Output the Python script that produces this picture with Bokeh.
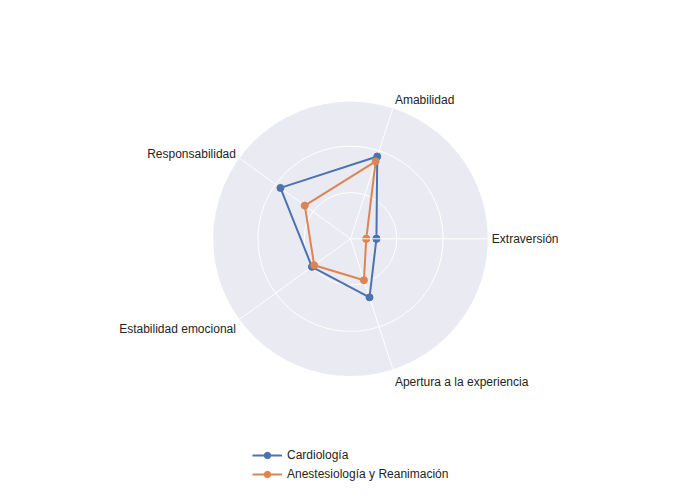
import numpy as np
from bokeh.plotting import figure
from bokeh.models import Legend, LegendItem, ColumnDataSource
from bokeh.core.properties import value
from bokeh.embed import file_html
from bokeh.resources import INLINE

categories = ["Extraversión", "Amabilidad", "Responsabilidad", "Estabilidad emocional", "Apertura a la experiencia"]
cardiologia = [0.56, 1.87, 1.87, 1.03, 1.33]
anestesiologia = [0.34, 1.76, 1.22, 0.97, 0.94]
series_names = ["Cardiología", "Anestesiología y Reanimación"]
series_colors = ["#4C72B0", "#DD8452"]
rings = [1, 2]
r_max = 2.966

W, H = 684, 484
scale = 46.3
cx, cy = 350, 238.3
p = figure(width=W, height=H, output_backend="svg", toolbar_location=None,
           x_range=(-cx / scale, (W - cx) / scale), y_range=(-(H - cy) / scale, cy / scale),
           min_border=0, match_aspect=False)
p.axis.visible = False
p.grid.visible = False
p.outline_line_color = None
p.background_fill_color = "white"
p.border_fill_color = "white"

n = len(categories)
angles = np.deg2rad(np.arange(n) * 360.0 / n)

# background disc
p.circle(x=[0], y=[0], radius=r_max, fill_color="#EAEAF2", line_color=None)
for r in rings:
    p.circle(x=[0], y=[0], radius=r, fill_color=None, line_color="white", line_width=1)
# spokes (except angle 0, drawn above traces)
p.segment(x0=[0] * (n - 1), y0=[0] * (n - 1), x1=list(r_max * np.cos(angles[1:])),
          y1=list(r_max * np.sin(angles[1:])), line_color="white", line_width=1)

items = []
for name, vals, col in zip(series_names, [cardiologia, anestesiologia], series_colors):
    v = np.array(vals + vals[:1])
    a = np.concatenate([angles, angles[:1]])
    src = ColumnDataSource(dict(x=v * np.cos(a), y=v * np.sin(a)))
    ln = p.line("x", "y", source=src, line_color=col, line_width=2)
    sc = p.scatter("x", "y", source=src, size=7, fill_color=col, line_color=col)
    items.append(LegendItem(label=name, renderers=[ln, sc]))

# radial axis line at angle 0 drawn above traces
p.segment(x0=[0], y0=[0], x1=[r_max], y1=[0], line_color="white", line_width=1)

# category labels
lx = r_max * np.cos(angles)
ly = r_max * np.sin(angles)
aligns = ["left", "left", "right", "right", "left"]
xoffs = [4, 2, -3.5, -3.5, 2]
yoffs = [0, -8, -4.5, 9, 13]
for i in range(n):
    p.text(x=[lx[i]], y=[ly[i]], text=[categories[i]], text_align=aligns[i], text_baseline="middle",
           x_offset=xoffs[i], y_offset=yoffs[i], text_font=value("Liberation Sans"),
           text_font_size="12px", text_color="#242424")

legend = Legend(items=items, location=(252, 2), orientation="vertical",
                border_line_color=None, background_fill_alpha=0, padding=0, margin=0,
                glyph_width=30, glyph_height=16, label_height=16, spacing=3, label_standoff=5,
                label_text_font="Liberation Sans", label_text_font_size="12px", label_text_color="#242424")
p.add_layout(legend, "center")

open("out.html", "w").write(file_html(p, INLINE))
